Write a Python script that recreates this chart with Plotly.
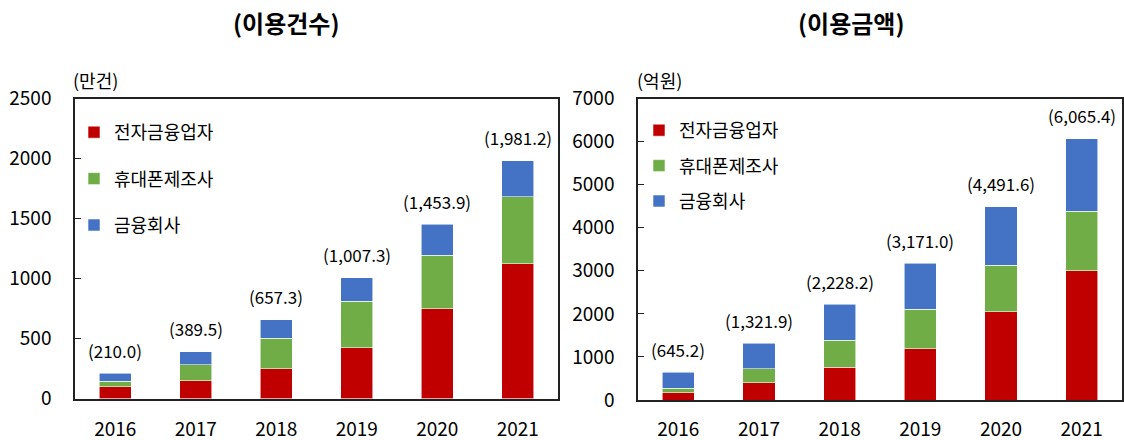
import plotly.graph_objects as go

years = ["2016", "2017", "2018", "2019", "2020", "2021"]
series_names = ["전자금융업자", "휴대폰제조사", "금융회사"]
colors = ["#C00000", "#70AD47", "#4472C4"]

# 이용건수 (만건)
count_efin = [100, 150, 250, 425, 750, 1125]
count_phone = [45, 131, 253, 386, 444, 555]
count_bank = [65, 108.5, 154.3, 196.3, 259.9, 301.2]
count_total = [210.0, 389.5, 657.3, 1007.3, 1453.9, 1981.2]

# 이용금액 (억원)
amount_efin = [165, 395, 766, 1194, 2053, 3005]
amount_phone = [110, 334, 620, 912, 1075, 1377]
amount_bank = [370.2, 592.9, 842.2, 1065.0, 1363.6, 1683.4]
amount_total = [645.2, 1321.9, 2228.2, 3171.0, 4491.6, 6065.4]

FONT = "Noto Sans CJK KR"
W, H = 1124, 440

fig = go.Figure()

left_series = [count_efin, count_phone, count_bank]
right_series = [amount_efin, amount_phone, amount_bank]

for i, (name, vals) in enumerate(zip(series_names, left_series)):
    fig.add_trace(go.Bar(
        x=years, y=vals, name=name, marker_color=colors[i],
        marker_line=dict(color="rgba(255,255,255,0.7)", width=0.8),
        xaxis="x", yaxis="y", legend="legend", legendgroup=f"l{i}",
    ))
for i, (name, vals) in enumerate(zip(series_names, right_series)):
    fig.add_trace(go.Bar(
        x=years, y=vals, name=name, marker_color=colors[i],
        marker_line=dict(color="rgba(255,255,255,0.7)", width=0.8),
        xaxis="x2", yaxis="y2", legend="legend2", legendgroup=f"r{i}",
    ))

annotations = []
# total labels: x given as category index on the category axis
for idx, t in enumerate(count_total):
    annotations.append(dict(x=idx, y=t, xref="x", yref="y", text=f"({t:,.1f})",
                            showarrow=False, yanchor="middle", yshift=23,
                            font=dict(family=FONT, size=17, color="#000")))
for idx, t in enumerate(amount_total):
    annotations.append(dict(x=idx, y=t, xref="x2", yref="y2", text=f"({t:,.1f})",
                            showarrow=False, yanchor="middle", yshift=23,
                            font=dict(family=FONT, size=17, color="#000")))

# titles and units
annotations += [
    dict(x=286 / W, y=1 - 22 / H, xref="paper", yref="paper", text="<b>(이용건수)</b>",
         showarrow=False, xanchor="center", yanchor="middle",
         font=dict(family=FONT, size=24, color="#000")),
    dict(x=851 / W, y=1 - 22 / H, xref="paper", yref="paper", text="<b>(이용금액)</b>",
         showarrow=False, xanchor="center", yanchor="middle",
         font=dict(family=FONT, size=24, color="#000")),
    dict(x=71 / W, y=1 - 80 / H, xref="paper", yref="paper", text="(만건)",
         showarrow=False, xanchor="left", yanchor="middle",
         font=dict(family=FONT, size=18, color="#000")),
    dict(x=635 / W, y=1 - 80 / H, xref="paper", yref="paper", text="(억원)",
         showarrow=False, xanchor="left", yanchor="middle",
         font=dict(family=FONT, size=18, color="#000")),
]

axis_common = dict(showline=True, linecolor="#222", linewidth=1.5, mirror=True,
                   showgrid=False, zeroline=False, automargin=False,
                   tickfont=dict(family=FONT, size=19, color="#000"))

fig.update_layout(
    width=W, height=H,
    margin=dict(l=0, r=0, t=0, b=0, autoexpand=False),
    paper_bgcolor="white", plot_bgcolor="white",
    barmode="stack", bargap=0.6,
    showlegend=True,
    annotations=annotations,
    xaxis=dict(domain=[75 / W, 558 / W], anchor="y", type="category", range=[-0.5, 5.5],
               ticks="outside", ticklen=13, tickcolor="rgba(0,0,0,0)", **axis_common),
    yaxis=dict(domain=[1 - 398.5 / H, 1 - 98.5 / H], anchor="x", range=[0, 2500],
               dtick=500, ticks="inside", ticklen=6, tickcolor="#222",
               ticklabelstandoff=18, **axis_common),
    xaxis2=dict(domain=[638 / W, 1122 / W], anchor="y2", type="category", range=[-0.5, 5.5],
                ticks="outside", ticklen=11, tickcolor="rgba(0,0,0,0)", **axis_common),
    yaxis2=dict(domain=[1 - 400 / H, 1 - 98.5 / H], anchor="x2", range=[0, 7000],
                dtick=1000, ticks="inside", ticklen=6, tickcolor="#222",
                ticklabelstandoff=18, **axis_common),
    legend=dict(x=74 / W, y=1 - 114 / H, xanchor="left", yanchor="top",
                traceorder="grouped", tracegroupgap=20, bgcolor="rgba(0,0,0,0)",
                font=dict(family=FONT, size=18, color="#000")),
    legend2=dict(x=639 / W, y=1 - 112 / H, xanchor="left", yanchor="top",
                 traceorder="grouped", tracegroupgap=9, bgcolor="rgba(0,0,0,0)",
                 font=dict(family=FONT, size=18, color="#000")),
)

fig.write_html("out.html", config={"displayModeBar": False},
               post_script="document.body.style.margin='0px';")
